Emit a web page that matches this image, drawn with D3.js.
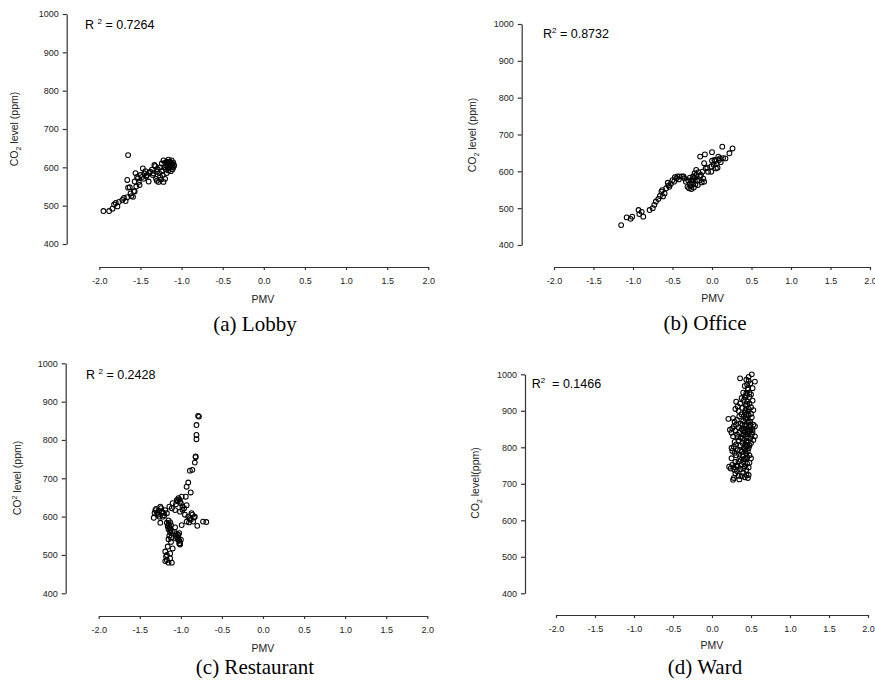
<!DOCTYPE html>
<html>
<head>
  <meta charset="utf-8">
  <title>CO2 vs PMV</title>
  <style>
    body { margin: 0; background: #fff; }
    svg { display: block; font-family: "Liberation Sans", Arial, sans-serif; }
    .axis path, .axis line { stroke: #333; stroke-width: 1.2px; }
    .axis text { fill: #222; font-size: 9px; font-family: "Liberation Sans", Arial, sans-serif; }
    .pt { fill: none; stroke: #000; stroke-width: 1.05px; }
    .ytitle, .xtitle { fill: #222; font-size: 10.5px; }
    .r2 { fill: #000; font-size: 12.5px; }
    .caption { font-family: "Liberation Serif", "Times New Roman", serif; font-size: 21px; fill: #000; }
  </style>
</head>
<body>
  <svg width="875" height="681"></svg>

  <script src="https://d3js.org/d3.v7.min.js"></script>
  <script>
    // tick values shared by all four panels
    var pmvTicks = [-2.0, -1.5, -1.0, -0.5, 0.0, 0.5, 1.0, 1.5, 2.0];
    var co2Ticks = [400, 500, 600, 700, 800, 900, 1000];

    // [PMV, CO2 ppm]
    var lobby = [
      [-1.95,486],[-1.88,486],[-1.84,492],[-1.82,503],[-1.80,507],[-1.78,498],[-1.76,510],[-1.72,515],
      [-1.70,520],[-1.68,512],[-1.66,522],[-1.65,632],[-1.66,567],[-1.65,547],[-1.63,548],[-1.62,532],
      [-1.61,525],[-1.59,523],[-1.58,538],[-1.57,537],[-1.56,585],[-1.57,563],[-1.55,550],[-1.54,575],
      [-1.53,571],[-1.52,562],[-1.51,554],[-1.50,580],[-1.48,575],[-1.47,597],[-1.46,570],[-1.45,584],
      [-1.44,590],[-1.43,576],[-1.42,580],[-1.40,563],[-1.39,586],[-1.38,589],[-1.36,594],[-1.35,580],
      [-1.34,584],[-1.33,606],[-1.32,603],[-1.31,570],[-1.30,589],[-1.30,565],[-1.29,595],[-1.28,562],
      [-1.27,585],[-1.26,575],[-1.26,600],[-1.25,568],[-1.24,610],[-1.24,590],[-1.23,580],[-1.22,562],
      [-1.22,618],[-1.21,600],[-1.20,570],[-1.20,612],[-1.19,595],[-1.19,605],[-1.18,585],[-1.18,615],
      [-1.17,600],[-1.17,608],[-1.16,592],[-1.16,620],[-1.15,612],[-1.15,598],[-1.14,605],[-1.14,615],
      [-1.13,590],[-1.13,610],[-1.12,602],[-1.12,618],[-1.11,595],[-1.11,608],[-1.10,612],[-1.10,600],
      [-1.09,605]
    ];

    var office = [
      [-1.15,454],[-1.08,475],[-1.03,471],[-1.01,477],[-0.93,495],[-0.92,484],[-0.89,490],[-0.87,477],
      [-0.79,495],[-0.75,500],[-0.73,509],[-0.71,518],[-0.68,525],[-0.66,533],[-0.64,545],[-0.63,549],
      [-0.62,532],[-0.60,540],[-0.58,554],[-0.56,569],[-0.55,562],[-0.54,558],[-0.52,566],[-0.50,576],
      [-0.48,572],[-0.47,584],[-0.45,581],[-0.44,586],[-0.42,578],[-0.41,586],[-0.38,586],[-0.36,586],
      [-0.35,581],[-0.33,572],[-0.31,558],[-0.30,575],[-0.29,554],[-0.28,566],[-0.28,583],[-0.27,560],
      [-0.26,576],[-0.26,552],[-0.25,570],[-0.24,586],[-0.24,578],[-0.23,556],[-0.22,595],[-0.22,583],
      [-0.21,565],[-0.20,604],[-0.20,590],[-0.19,575],[-0.18,563],[-0.17,598],[-0.16,576],[-0.15,640],
      [-0.15,585],[-0.14,590],[-0.13,570],[-0.12,599],[-0.11,580],[-0.10,622],[-0.10,572],[-0.09,646],
      [-0.08,608],[-0.06,610],[-0.05,599],[-0.01,613],[-0.01,599],[0.00,652],[0.00,629],[0.02,618],
      [0.03,631],[0.04,628],[0.05,608],[0.06,620],[0.07,610],[0.08,640],[0.09,631],[0.10,635],
      [0.11,625],[0.13,667],[0.14,636],[0.17,635],[0.22,649],[0.26,662]
    ];

    var restaurant = [
      [-0.78,861],[-0.79,863],[-0.81,839],[-0.81,813],[-0.81,802],[-0.82,757],[-0.82,755],[-0.83,741],
      [-0.86,722],[-0.89,720],[-0.91,689],[-0.93,678],[-0.88,663],[-0.94,652],[-0.99,652],[-1.03,648],
      [-1.01,639],[-1.05,643],[-0.93,630],[-0.98,626],[-1.10,635],[-1.14,626],[-1.11,622],[-1.07,617],
      [-1.01,613],[-0.87,609],[-0.83,600],[-0.89,596],[-0.93,587],[-0.85,587],[-0.80,576],[-0.73,587],
      [-0.69,586],[-1.31,617],[-1.29,609],[-1.33,597],[-1.25,626],[-1.23,613],[-1.19,617],[-1.17,609],
      [-1.22,600],[-1.25,584],[-1.17,584],[-1.15,567],[-1.13,559],[-1.15,541],[-1.12,534],[-1.07,572],
      [-1.05,555],[-1.03,541],[-1.02,537],[-1.01,530],[-1.06,543],[-1.02,557],[-0.99,578],[-1.10,517],
      [-1.16,522],[-1.19,509],[-1.17,500],[-1.19,484],[-1.15,480],[-1.11,480],[-1.13,491],[-1.17,487],
      [-1.18,496],[-1.13,504],[-1.32,610],[-1.30,620],[-1.28,605],[-1.27,615],[-1.26,600],[-1.24,622],
      [-1.21,610],[-1.20,603],[-1.16,575],[-1.15,580],[-1.14,572],[-1.13,565],[-1.12,578],[-1.11,562],
      [-1.14,550],[-1.12,545],[-1.15,590],[-1.13,585],[-1.08,560],[-1.06,550],[-1.04,545],[-1.03,552],
      [-1.02,530],[-1.01,527],[-1.00,540],[-1.06,632],[-1.04,640],[-1.02,645],[-1.00,635],[-0.98,618],
      [-0.96,622],[-0.95,605],[-0.91,600],[-0.88,592],[-0.86,605],[-0.84,598],[-0.90,585]
    ];

    var ward = [
      [0.36,989],[0.51,1000],[0.55,980],[0.47,993],[0.44,985],[0.49,975],[0.42,968],[0.52,962],
      [0.46,958],[0.40,950],[0.50,945],[0.44,942],[0.33,912],[0.38,935],[0.41,930],[0.45,925],
      [0.48,938],[0.52,928],[0.36,920],[0.30,905],[0.34,900],[0.39,908],[0.43,915],[0.47,905],
      [0.50,910],[0.53,902],[0.31,925],[0.44,948],[0.21,878],[0.27,880],[0.29,870],[0.32,875],
      [0.35,885],[0.38,890],[0.40,872],[0.42,895],[0.45,880],[0.47,888],[0.49,870],[0.51,882],
      [0.53,862],[0.55,858],[0.28,858],[0.31,862],[0.34,855],[0.37,865],[0.41,852],[0.44,860],
      [0.46,868],[0.48,855],[0.50,892],[0.23,848],[0.26,852],[0.43,878],[0.39,862],[0.52,850],
      [0.25,840],[0.27,830],[0.30,845],[0.32,835],[0.35,840],[0.37,826],[0.40,835],[0.42,842],
      [0.45,830],[0.47,838],[0.49,825],[0.51,835],[0.53,820],[0.55,830],[0.29,815],[0.31,808],
      [0.34,818],[0.36,805],[0.39,812],[0.41,820],[0.43,808],[0.46,815],[0.48,805],[0.50,812],
      [0.25,798],[0.28,802],[0.44,800],[0.52,842],[0.33,828],[0.26,790],[0.29,785],[0.31,778],
      [0.33,792],[0.35,780],[0.38,788],[0.40,775],[0.42,795],[0.44,782],[0.46,790],[0.48,778],
      [0.50,770],[0.37,765],[0.40,760],[0.43,768],[0.45,755],[0.48,758],[0.34,762],[0.30,760],
      [0.22,747],[0.26,752],[0.28,745],[0.31,750],[0.25,770],[0.27,711],[0.28,716],[0.30,728],
      [0.32,735],[0.34,722],[0.36,740],[0.38,721],[0.40,730],[0.42,718],[0.44,725],[0.46,716],
      [0.47,724],[0.35,712],[0.29,738],[0.24,742],
      [0.42,938],[0.45,918],[0.46,898],[0.43,902],[0.48,920],[0.41,885],[0.44,890],[0.47,872],
      [0.42,862],[0.45,848],[0.48,845],[0.43,835],[0.46,825],[0.49,848],[0.44,815],[0.47,798],
      [0.41,798],[0.45,805],[0.39,825],[0.38,850],[0.40,845],[0.46,845],[0.49,862],[0.43,790],
      [0.39,778],[0.41,768],[0.36,792],[0.45,772],[0.47,745],[0.42,748],[0.38,752],[0.44,738],
      [0.33,748],[0.40,742],[0.46,962],[0.48,950],[0.45,972],[0.47,982]
    ];

    var captions = ["(a) Lobby", "(b) Office", "(c) Restaurant", "(d) Ward"];
    var r2Values = ["0.7264", "0.8732", "0.2428", "0.1466"];

    // where each panel sits in the page
    var panels = [
      { data: lobby, caption: captions[0], r2: r2Values[0], r2pre: "R ", r2post: " = ", sup: false, ytitle: "level (ppm)",
        ax: 66.7, yTop: 14, yBot: 244, xy: 267, xL: 99.3, xR: 428.3,
        ytx: 18, yty: 129, r2x: 85, r2y: 28.5, capx: 255, capy: 331, pmvx: 263, pmvy: 303 },
      { data: office, caption: captions[1], r2: r2Values[1], r2pre: "R", r2post: " = ", sup: false, ytitle: "level (ppm)",
        ax: 521.7, yTop: 24, yBot: 245, xy: 267, xL: 554, xR: 870,
        ytx: 476, yty: 135, r2x: 543, r2y: 37.7, capx: 705, capy: 329.5, pmvx: 712.7, pmvy: 302 },
      { data: restaurant, caption: captions[2], r2: r2Values[2], r2pre: "R ", r2post: " = ", sup: true, ytitle: "level (ppm)",
        ax: 65.7, yTop: 363.3, yBot: 593.3, xy: 616, xL: 98.7, xR: 427.3,
        ytx: 21, yty: 478, r2x: 86, r2y: 379, capx: 255, capy: 674, pmvx: 263, pmvy: 652 },
      { data: ward, caption: captions[3], r2: r2Values[3], r2pre: "R", r2post: "  = ", sup: false, ytitle: "level(ppm)",
        ax: 525, yTop: 374.3, yBot: 593.3, xy: 615, xL: 556, xR: 868,
        ytx: 479, yty: 483, r2x: 531.7, r2y: 388.3, capx: 705, capy: 674, pmvx: 712, pmvy: 649 }
    ];

    var svg = d3.select("svg");

    panels.forEach(function (p) {
      var x = d3.scaleLinear().domain([-2, 2]).range([p.xL, p.xR]);
      var y = d3.scaleLinear().domain([400, 1000]).range([p.yBot, p.yTop]);
      var g = svg.append("g");

      g.append("g")
        .attr("class", "axis")
        .attr("transform", "translate(" + p.ax + ",0)")
        .call(d3.axisLeft(y).tickValues(co2Ticks).tickSize(4).tickSizeOuter(0).tickPadding(4)
          .tickFormat(function (d) { return String(d); }))
        .select(".domain").attr("fill", "none");

      g.append("g")
        .attr("class", "axis")
        .attr("transform", "translate(0," + p.xy + ")")
        .call(d3.axisBottom(x).tickValues(pmvTicks).tickSize(3).tickSizeOuter(0).tickPadding(8)
          .tickFormat(function (d) { return d.toFixed(1); }))
        .select(".domain").attr("fill", "none");

      g.selectAll(".pt")
        .data(p.data)
        .enter().append("circle")
        .attr("class", "pt")
        .attr("r", 2.4)
        .attr("cx", function (d) { return x(d[0]); })
        .attr("cy", function (d) { return y(d[1]); });

      // y title, CO2 with sub- or superscript 2
      var yt = g.append("text")
        .attr("class", "ytitle")
        .attr("text-anchor", "middle")
        .attr("transform", "translate(" + p.ytx + "," + p.yty + ") rotate(-90)");
      yt.append("tspan").text("CO");
      yt.append("tspan").attr("font-size", "7px").attr("dy", p.sup ? -4 : 2.5).text("2");
      yt.append("tspan").attr("dy", p.sup ? 4 : -2.5).text(" " + p.ytitle);

      g.append("text")
        .attr("class", "xtitle")
        .attr("text-anchor", "middle")
        .attr("x", p.pmvx)
        .attr("y", p.pmvy)
        .text("PMV");

      var rt = g.append("text")
        .attr("class", "r2")
        .attr("x", p.r2x)
        .attr("y", p.r2y);
      rt.append("tspan").text(p.r2pre);
      rt.append("tspan").attr("font-size", "8px").attr("dy", -5).text("2");
      rt.append("tspan").attr("dy", 5).style("white-space", "pre").text(p.r2post + p.r2);

      g.append("text")
        .attr("class", "caption")
        .attr("text-anchor", "middle")
        .attr("x", p.capx)
        .attr("y", p.capy)
        .text(p.caption);
    });
  </script>
</body>
</html>
